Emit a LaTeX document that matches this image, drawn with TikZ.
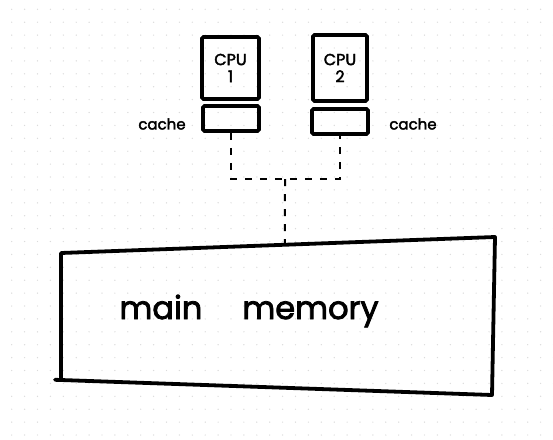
\documentclass[tikz,border=0pt]{standalone}
\usepackage{fontspec}
\setmainfont{Poppins}
\newfontfamily\handfont{Poppins}[FakeBold=2.5]
\usetikzlibrary{calc}
\begin{document}
\begin{tikzpicture}[x=1pt,y=-1pt,
  box/.style={draw, line width=3.8pt, rounded corners=1.5pt, inner sep=0pt, align=center,
              font=\handfont\fontsize{16}{15}\selectfont},
  lnk/.style={line width=2pt, dash pattern=on 7pt off 8pt},
  lbl/.style={font=\handfont\fontsize{15}{16}\selectfont, inner sep=0pt},
  memtxt/.style={font=\handfont\fontsize{32}{34}\selectfont, inner sep=0pt}]
\fill[white] (0,0) rectangle (553,439);
\useasboundingbox (0,0) rectangle (553,439);
% dotted grid
\foreach \i in {0,...,42} \foreach \j in {0,...,33}
  \fill[black!14] (11.7+12.9*\i, 9.3+12.9*\j) circle[radius=0.7pt];
% CPUs and caches
\node[box, minimum width=57pt, minimum height=62pt] (cpu1) at (230.5,68) {CPU\\[2pt]1};
\node[box, minimum width=54pt, minimum height=66pt] (cpu2) at (340,68) {CPU\\[2pt]2};
\node[box, minimum width=56pt, minimum height=25pt] (c1) at (231,118.5) {};
\node[box, minimum width=56pt, minimum height=25pt] (c2) at (340,121.5) {};
\node[lbl] (l1) at (162,124) {cache};
\node[lbl] (l2) at (413,124) {cache};
% main memory (slightly skewed hand-drawn box)
\coordinate (mTL) at (61,253);
\coordinate (mTR) at (495,237);
\coordinate (mBR) at (492,395);
\coordinate (mBL) at (61,380);
\draw[line width=3.8pt, line join=round, line cap=round]
  (mTL) -- (mTR) -- (mBR) -- (mBL) -- cycle;
\draw[line width=3.8pt, line cap=round] (mBL) -- ++(-6,-0.2);
\node[memtxt] (mem) at (249,311) {main\hspace{40pt}memory};
\coordinate (memtop) at ($(mTL)!0.516!(mTR)$);
% bus
\coordinate (J) at (285,179);
\draw[lnk] (c1.south) |- (J) -| (c2.south);
\draw[lnk] (J) -- (memtop);
\end{tikzpicture}
\end{document}
